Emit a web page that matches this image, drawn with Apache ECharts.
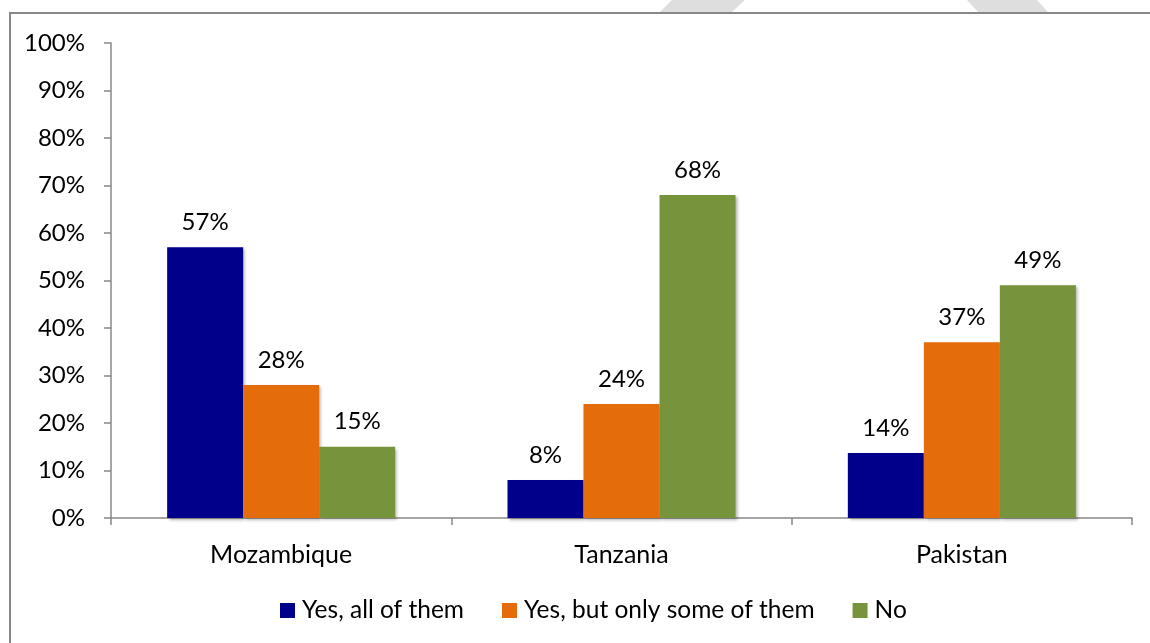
<!DOCTYPE html>
<html><head><meta charset="utf-8">
<script src="https://cdn.jsdelivr.net/npm/echarts@6/dist/echarts.min.js"></script>
<style>html,body{margin:0;padding:0;background:#fff}#c{width:1150px;height:643px}</style>
</head><body><div id="c"></div>
<script>
const categories = ['Mozambique', 'Tanzania', 'Pakistan'];
const seriesNames = ['Yes, all of them', 'Yes, but only some of them', 'No'];
const yesAll = [57, 8, 13.7];
const yesSome = [28, 24, 37];
const no = [15, 68, 49];
const colors = ['#00008B', '#E46C0A', '#77933C'];
const font = 'Lato, "Open Sans", sans-serif';
const chart = echarts.init(document.getElementById('c'));
function mk(name, data, color) {
  return {
    name, type: 'bar', data, barGap: '0%', barCategoryGap: '33%',
    itemStyle: { color, shadowColor: 'rgba(0,0,0,0.3)', shadowBlur: 3, shadowOffsetX: 2, shadowOffsetY: 2 },
    label: { show: true, position: 'top', distance: 13, color: '#000', fontSize: 24, fontFamily: font,
      formatter: p => Math.round(p.value) + '%' }
  };
}
chart.setOption({
  animation: false,
  grid: { left: 111, right: 18, top: 43, bottom: 125, containLabel: false },
  graphic: [
    { type: 'polygon', shape: { points: [[672, 0], [745, 0], [732, 12], [660, 12]] }, style: { fill: '#dedede' }, silent: true },
    { type: 'polygon', shape: { points: [[967, 0], [1037, 0], [1048, 12], [978, 12]] }, style: { fill: '#dedede' }, silent: true },
    { type: 'rect', shape: { x: 10, y: 13, width: 1160, height: 660 },
      style: { fill: 'none', stroke: '#888', lineWidth: 2 }, silent: true }
  ],
  legend: { top: 593, left: 275, itemWidth: 15, itemHeight: 15, itemGap: 38, icon: 'rect',
    textStyle: { fontSize: 24.5, fontFamily: font, color: '#000', padding: [0, 0, 0, 2] }, data: seriesNames },
  xAxis: { type: 'category', data: categories,
    axisLine: { lineStyle: { color: '#888', width: 1.5 } },
    axisTick: { show: true, length: 7, lineStyle: { color: '#888', width: 1.5 } },
    axisLabel: { margin: 24, fontSize: 25, fontFamily: font, color: '#000' } },
  yAxis: { type: 'value', min: 0, max: 100, interval: 10,
    axisLine: { show: true, lineStyle: { color: '#888', width: 1.5 } },
    axisTick: { show: true, length: 7, lineStyle: { color: '#888', width: 1.5 } },
    splitLine: { show: false },
    axisLabel: { margin: 26, fontSize: 24, fontFamily: font, color: '#000', formatter: '{value}%' } },
  series: [mk(seriesNames[0], yesAll, colors[0]), mk(seriesNames[1], yesSome, colors[1]), mk(seriesNames[2], no, colors[2])]
});
</script></body></html>
